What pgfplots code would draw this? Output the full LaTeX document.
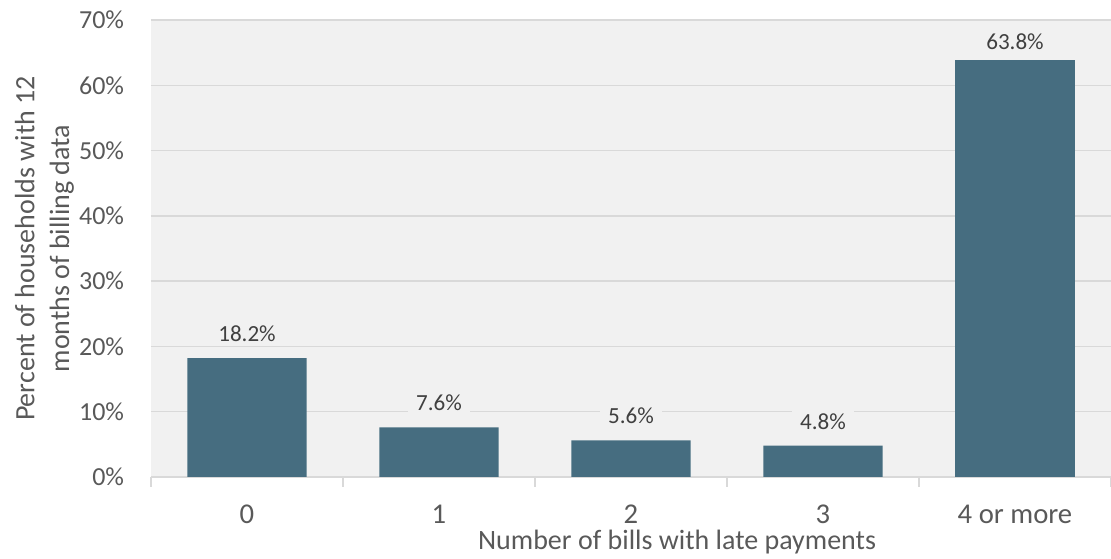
\documentclass[border=0pt]{standalone}
\usepackage{pgfplots}
\pgfplotsset{compat=1.18}
\usepackage{fontspec}
\setmainfont{Carlito}
\definecolor{barc}{HTML}{466D80}
\definecolor{bgc}{HTML}{F1F1F1}
\definecolor{gridc}{HTML}{D9D9D9}
\definecolor{txt}{HTML}{595959}
\definecolor{lbl}{HTML}{404040}
\begin{document}
\begin{tikzpicture}
\path[use as bounding box] (-113.25pt,-61.5pt) rectangle (720pt,357.75pt);
\begin{axis}[
  at={(0,0)}, anchor=south west,
  scale only axis,
  width=720pt, height=342.75pt,
  xmin=-0.5, xmax=4.5, ymin=0, ymax=70,
  ybar, bar width=0.62, bar shift=0pt,
  axis background/.style={fill=bgc},
  axis x line*=bottom, axis y line*=left,
  x axis line style={draw=gridc, line width=1.1pt},
  y axis line style={draw=none},
  xtick={0,1,2,3,4},
  xticklabels={0,1,2,3,4 or more},
  minor xtick={-0.5,0.5,1.5,2.5,3.5,4.5},
  ytick={0,10,20,30,40,50,60,70},
  yticklabel={\pgfmathprintnumber{\tick}\%},
  major tick length=0pt,
  minor tick length=7.5pt,
  tick align=outside,
  minor tick style={draw=gridc, line width=1.1pt},
  ymajorgrids,
  grid style={draw=gridc, line width=1.1pt},
  /pgf/number format/assume math mode=true,
  yticklabel style={font=\fontsize{19.5pt}{23pt}\selectfont, text=txt, inner sep=0pt, anchor=east, xshift=-20pt},
  xticklabel style={font=\fontsize{21.5pt}{25pt}\selectfont, text=txt, inner sep=0pt, anchor=north, yshift=-20.5pt},
  xlabel={Number of bills with late payments},
  xlabel style={at={(axis description cs:0.548,0)}, anchor=center, yshift=-48.5pt, inner sep=0pt,
    font=\fontsize{21pt}{25pt}\selectfont, text=txt},
  ylabel={Percent of households with 12\\months of billing data},
  ylabel style={at={(axis description cs:-0.111,0.5)}, anchor=center, inner sep=0pt,
    align=center, font=\fontsize{21pt}{26pt}\selectfont, text=txt},
  nodes near coords={\pgfmathprintnumber[fixed,fixed zerofill,precision=1]{\pgfplotspointmeta}\%},
  nodes near coords style={font=\fontsize{17.3pt}{20pt}\selectfont, text=lbl, fill=bgc,
    inner xsep=6pt, inner ysep=2pt, anchor=south},
  clip=false,
]
\addplot[fill=barc, draw=none, nodes near coords style={yshift=10pt}] coordinates {(0,18.2) (1,7.6) (2,5.6) (3,4.8)};
\addplot[fill=barc, draw=none, nodes near coords style={yshift=6pt}] coordinates {(4,63.8)};
\end{axis}
\end{tikzpicture}
\end{document}
